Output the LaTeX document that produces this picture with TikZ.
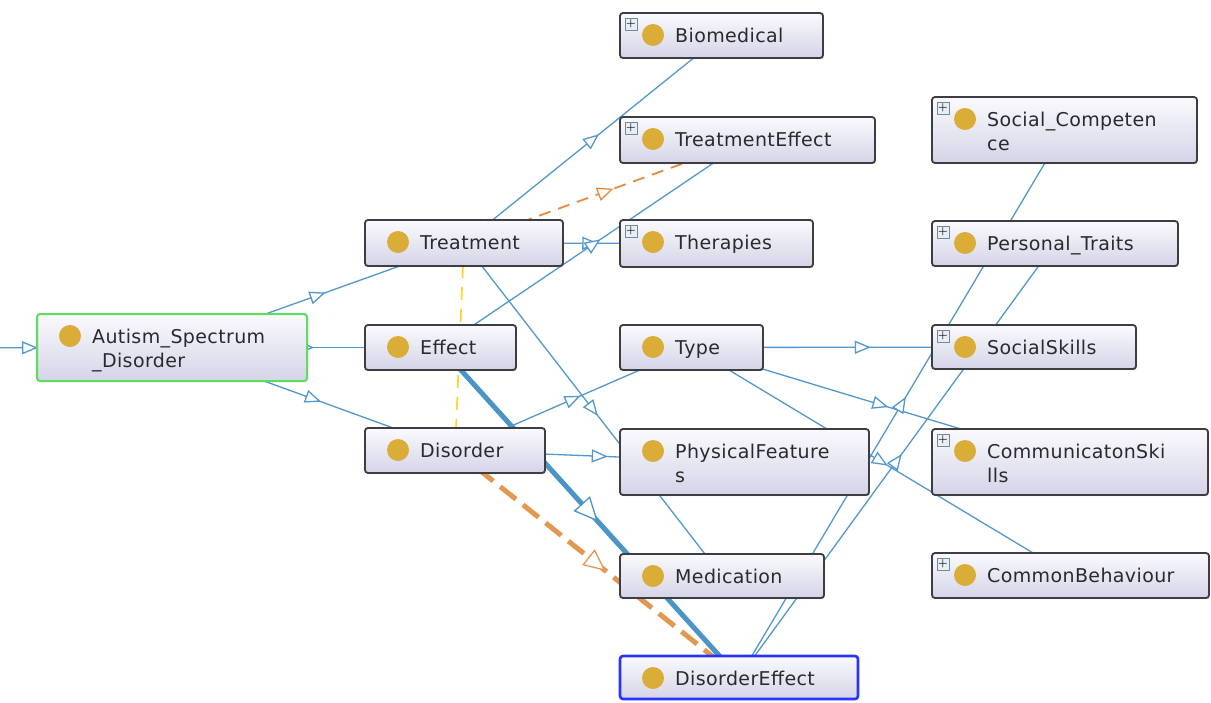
\documentclass[tikz,border=0pt]{standalone}
\usepackage{fontspec}
\newfontfamily\lblfont{DejaVu Sans}[LetterSpace=2]
\usetikzlibrary{arrows.meta,decorations.markings,backgrounds,shadows}

\definecolor{edgeblue}{RGB}{82,152,205}
\definecolor{thickblue}{RGB}{74,148,200}
\definecolor{orangethin}{RGB}{232,138,62}
\definecolor{orangethick}{RGB}{226,152,80}
\definecolor{yellowdash}{RGB}{255,212,30}
\definecolor{boxline}{RGB}{62,62,66}
\definecolor{boxtop}{RGB}{250,250,253}
\definecolor{boxbot}{RGB}{212,212,232}
\definecolor{dotgold}{RGB}{218,172,56}
\definecolor{txtgray}{RGB}{42,42,46}
\definecolor{asdgreen}{RGB}{92,222,92}
\definecolor{deblue}{RGB}{40,52,250}
\definecolor{plusfill}{RGB}{232,238,246}
\definecolor{plusline}{RGB}{120,136,156}

\tikzset{
  clsframe/.style={rectangle, rounded corners=3pt, draw=boxline, line width=1.8pt,
    top color=boxtop, bottom color=boxbot, outer sep=0pt, inner sep=0pt,
    drop shadow={shadow xshift=0.8pt, shadow yshift=-1.2pt, opacity=.3}},
  clsdot/.style={circle, fill=dotgold, minimum size=22pt, inner sep=0pt},
  clstext/.style={anchor=north west, inner sep=0pt, align=left, text=txtgray,
    font=\lblfont\fontsize{19}{24}\selectfont},
  plusbox/.style={rectangle, draw=plusline, fill=plusfill, line width=.6pt,
    minimum size=12pt, inner sep=0pt, font=\fontsize{11}{11}\selectfont\bfseries},
  tipmid/.style 2 args={postaction={decorate}, decoration={markings,
    mark=at position .5 with {\arrow[xshift=#1pt/2]{Triangle[fill=white, length=#1pt, width=#2pt, line width=1.3pt]}}}},
  isa/.style={draw=edgeblue, line width=1.3pt, tipmid={16}{13}},
  thickedge/.style={draw=thickblue, line width=5pt, tipmid={24}{22}},
  dashthin/.style={draw=orangethin, line width=1.8pt, dash pattern=on 12pt off 8pt, tipmid={16}{14}},
  dashthick/.style={draw=orangethick, line width=5pt, dash pattern=on 20pt off 9pt, tipmid={22}{20}},
  yelldash/.style={draw=yellowdash, line width=1.6pt, dash pattern=on 13pt off 9pt}
}

% class box: name, left, top, width, height, extra frame options, label
\newcommand\clsbox[7]{%
  \node[clsframe, #6, minimum width=#4pt, minimum height=#5pt, anchor=north west] (#1) at (#2,#3) {};
  \node[clsdot] (#1-dot) at ([xshift=33pt, yshift=-22pt]#1.north west) {};
  \node[clstext] (#1-txt) at ([xshift=55pt, yshift=-12pt]#1.north west) {\strut #7};
}
% expand icon in the upper left corner of a class box
\newcommand\plusicon[1]{%
  \node[plusbox] (#1-plus) at ([xshift=11pt, yshift=-11pt]#1.north west) {+};
}

\begin{document}
\begin{tikzpicture}[x=1pt, y=-1pt]
\useasboundingbox (0,0) rectangle (1211,702);

% classes
\clsbox{asd}{37}{314}{270}{67}{draw=asdgreen, line width=2pt}{Autism\_Spectrum\\\_Disorder}
\clsbox{treat}{365}{220}{198}{46}{}{Treatment}
\clsbox{effect}{365}{325}{151}{45}{}{Effect}
\clsbox{dis}{365}{428}{180}{45}{}{Disorder}
\clsbox{bio}{620}{13}{203}{45}{}{Biomedical}
\clsbox{teff}{620}{117}{255}{46}{}{TreatmentEffect}
\clsbox{ther}{620}{220}{193}{47}{}{Therapies}
\clsbox{type}{620}{325}{143}{45}{}{Type}
\clsbox{pf}{620}{429}{249}{66}{}{PhysicalFeature\\s}
\clsbox{med}{620}{554}{204}{44}{}{Medication}
\clsbox{de}{620}{656}{238}{43}{draw=deblue, line width=2.6pt}{DisorderEffect}
\clsbox{soccomp}{932}{97}{265}{66}{}{Social\_Competen\\ce}
\clsbox{pers}{932}{221}{246}{45}{}{Personal\_Traits}
\clsbox{socsk}{932}{325}{204}{44}{}{SocialSkills}
\clsbox{comm}{932}{429}{276}{66}{}{CommunicatonSki\\lls}
\clsbox{commb}{932}{553}{277}{45}{}{CommonBehaviour}

\plusicon{bio}
\plusicon{teff}
\plusicon{ther}
\plusicon{soccomp}
\plusicon{pers}
\plusicon{socsk}
\plusicon{comm}
\plusicon{commb}

\coordinate (ext) at (-112,348);

% relations, drawn centre to centre behind the boxes
\begin{scope}[on background layer]
  \fill[white] (0,0) rectangle (1211,702);
  \clip (0,0) rectangle (1211,702);
  \draw[isa] (ext) -- (asd.center);
  \draw[isa] (asd.center) -- (treat.center);
  \draw[isa] (asd.center) -- (effect.center);
  \draw[isa] (asd.center) -- (dis.center);
  \draw[isa] (treat.center) -- (bio.center);
  \draw[dashthin] (treat.center) -- (teff.center);
  \draw[isa] (treat.center) -- (ther.center);
  \draw[isa] (treat.center) -- (med.center);
  \draw[yelldash] (treat.center) -- (dis.center);
  \draw[isa] (effect.center) -- (teff.center);
  \draw[thickedge] (effect.center) -- (de.center);
  \draw[isa] (dis.center) -- (type.center);
  \draw[isa] (dis.center) -- (pf.center);
  \draw[dashthick] (dis.center) -- (de.center);
  \draw[isa] (type.center) -- (socsk.center);
  \draw[isa] (type.center) -- (comm.center);
  \draw[isa] (type.center) -- (commb.center);
  \draw[isa] (de.center) -- (soccomp.center);
  \draw[isa] (de.center) -- (pers.center);
\end{scope}
\end{tikzpicture}
\end{document}
